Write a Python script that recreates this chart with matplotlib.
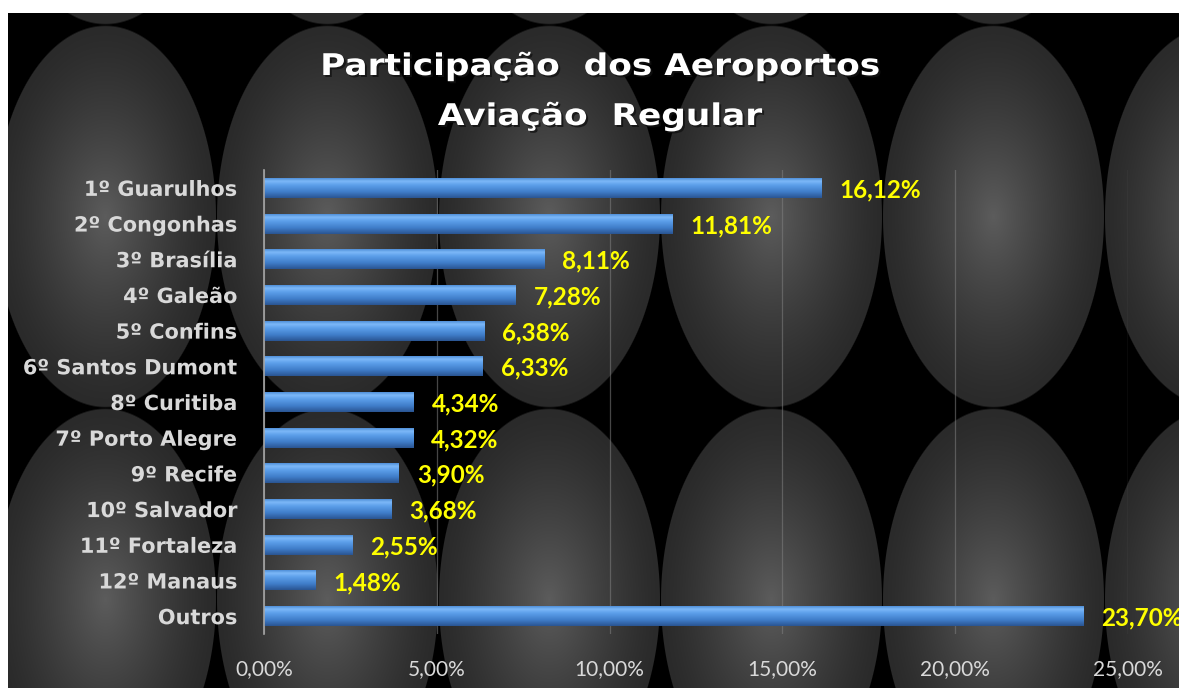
import numpy as np
import matplotlib
matplotlib.use("Agg")
import matplotlib.pyplot as plt
from matplotlib import patheffects as pe
from matplotlib.transforms import Affine2D
from matplotlib.colors import LinearSegmentedColormap
from matplotlib.textpath import TextPath
from matplotlib.font_manager import FontProperties, findfont

# ---- data ----
categories = ["1º Guarulhos", "2º Congonhas", "3º Brasília", "4º Galeão", "5º Confins",
              "6º Santos Dumont", "8º Curitiba", "7º Porto Alegre", "9º Recife",
              "10º Salvador", "11º Fortaleza", "12º Manaus", "Outros"]
values = [16.12, 11.81, 8.11, 7.28, 6.38, 6.33, 4.34, 4.32, 3.90, 3.68, 2.55, 1.48, 23.70]
xticks = [0, 5, 10, 15, 20, 25]
title_lines = ["Participação  dos Aeroportos", "Aviação  Regular"]

W, H = 1179, 688
fig = plt.figure(figsize=(W / 100, H / 100), dpi=100, facecolor="white")


class HStretch(pe.AbstractPathEffect):
    """Scale drawn text horizontally about a fixed display x (pixels)."""
    def __init__(self, cx, sx):
        super().__init__()
        self.cx, self.sx = cx, sx

    def draw_path(self, renderer, gc, tpath, affine, rgbFace=None):
        aff = affine + Affine2D().translate(-self.cx, 0).scale(self.sx, 1).translate(self.cx, 0)
        renderer.draw_path(gc, tpath, aff, rgbFace)


class HStretchShadow(pe.AbstractPathEffect):
    def __init__(self, cx, sx, off=(2, -2)):
        super().__init__()
        self.cx, self.sx, self.off = cx, sx, off

    def draw_path(self, renderer, gc, tpath, affine, rgbFace=None):
        aff = (affine + Affine2D().translate(-self.cx, 0).scale(self.sx, 1)
               .translate(self.cx + self.off[0], self.off[1]))
        gc0 = renderer.new_gc()
        gc0.copy_properties(gc)
        gc0.set_foreground("#111111")
        gc0.set_alpha(0.8)
        renderer.draw_path(gc0, tpath, aff, (0.07, 0.07, 0.07, 0.8))
        gc0.restore()


# ---- choose a label font whose "º" is underlined (like Calibri) ----
def n_contours(fam):
    fp = FontProperties(family=fam, weight="bold")
    p = TextPath((0, 0), "º", prop=fp, size=50)
    return int(np.sum(p.codes == 1)) if p.codes is not None else 0


label_font = "DejaVu Sans"
for fam in ["Open Sans", "Noto Sans", "Roboto", "Lato", "DejaVu Sans"]:
    try:
        findfont(FontProperties(family=fam), fallback_to_default=False)
    except Exception:
        continue
    if n_contours(fam) >= 3:
        label_font = fam
        break

label_size = 15.0
_fp = FontProperties(family=label_font, weight="bold")
_tp = TextPath((0, 0), "1º Guarulhos", prop=_fp, size=label_size)
_wpx = _tp.get_extents().width * 100 / 72
label_sx = min(1.0, 150.0 / _wpx)

# ---- background: tiled ellipses with radial gradient ----
yy, xx = np.mgrid[0:H, 0:W].astype(float)
tw, th = 222.0, 383.0
cx0, cy0 = 993.0, 216.0
dx = np.mod(xx - cx0 + tw / 2, tw) - tw / 2
dy = np.mod(yy - cy0 + th / 2, th) - th / 2
r = np.sqrt((dx / (tw / 2)) ** 2 + (dy / (th / 2)) ** 2)
shade = 42 + 50 * np.clip(1 - r, 0, 1) ** 1.3
inside = np.clip((1 - r) * 110, 0, 1)
val = shade * inside / 255.0
img = np.dstack([val, val, val])
img[:13, :, :] = 1.0
img[:, :8, :] = 1.0
bg = fig.add_axes([0, 0, 1, 1], zorder=0)
bg.imshow(img, aspect="auto", interpolation="bilinear")
bg.set_axis_off()

# ---- main axes ----
left, right, top, bottom = 264, 1128, 170, 634
ax = fig.add_axes([left / W, 1 - bottom / H, (right - left) / W, (bottom - top) / H], zorder=2)
ax.set_facecolor("none")
ypos = np.arange(len(categories))
bars = ax.barh(ypos, values, height=0.56, color="#4a8ad8", zorder=3)

cmap = LinearSegmentedColormap.from_list(
    "barg", [(0.0, "#4f8fd8"), (0.15, "#7db8f8"), (0.35, "#5c9fea"),
             (0.7, "#3f7cc8"), (1.0, "#2a5592")])
grad = np.linspace(0, 1, 64).reshape(-1, 1)
for b in bars:
    x0, y0 = b.get_x(), b.get_y()
    w, h = b.get_width(), b.get_height()
    im = ax.imshow(grad, cmap=cmap, aspect="auto", extent=(x0, x0 + w, y0 + h, y0),
                   zorder=4, interpolation="bilinear")
    im.set_clip_path(b)

ax.set_xlim(0, 25)
ax.set_ylim(len(categories) - 0.5, -0.5)

for yv, v in zip(ypos, values):
    ax.annotate(f"{v:.2f}%".replace(".", ","), xy=(v, yv), xytext=(18, -2),
                textcoords="offset pixels", va="center", ha="left",
                color="#ffff00", fontsize=17.5, fontweight="bold", family="Lato",
                annotation_clip=False, zorder=5)

ax.set_xticks(xticks)
ax.set_xticklabels([f"{t:.2f}%".replace(".", ",") for t in xticks],
                   color="#d9d9d9", fontsize=15, family="Lato")
ypad_pt = 19
ax.set_yticks(ypos)
ax.set_yticklabels(categories, color="#d9d9d9", fontsize=label_size, fontweight="bold",
                   family=label_font)
ax.tick_params(axis="both", length=0)
ax.tick_params(axis="x", pad=18)
ax.tick_params(axis="y", pad=ypad_pt)
label_right_px = left - ypad_pt * 100 / 72
for t in ax.get_yticklabels():
    t.set_path_effects([HStretch(label_right_px, label_sx)])
ax.grid(axis="x", color="#808080", alpha=0.55, linewidth=0.9, zorder=1)
ax.set_axisbelow(True)
for s in ["top", "right", "bottom"]:
    ax.spines[s].set_visible(False)
ax.spines["left"].set_color("#a6a6a6")
ax.spines["left"].set_linewidth(1.2)
ax.spines["left"].set_zorder(6)

# ---- title (horizontally expanded to mimic letter spacing) ----
cxp = 600.0
sx = 1.15
for line, yb in zip(title_lines, [75, 125]):
    fig.text(cxp / W, 1 - yb / H, line, ha="center", va="baseline", color="white",
             fontsize=21.5, fontweight="bold", family="DejaVu Sans", zorder=5,
             path_effects=[HStretchShadow(cxp, sx), HStretch(cxp, sx)])

fig.savefig("out.png", dpi=100, facecolor="white")
